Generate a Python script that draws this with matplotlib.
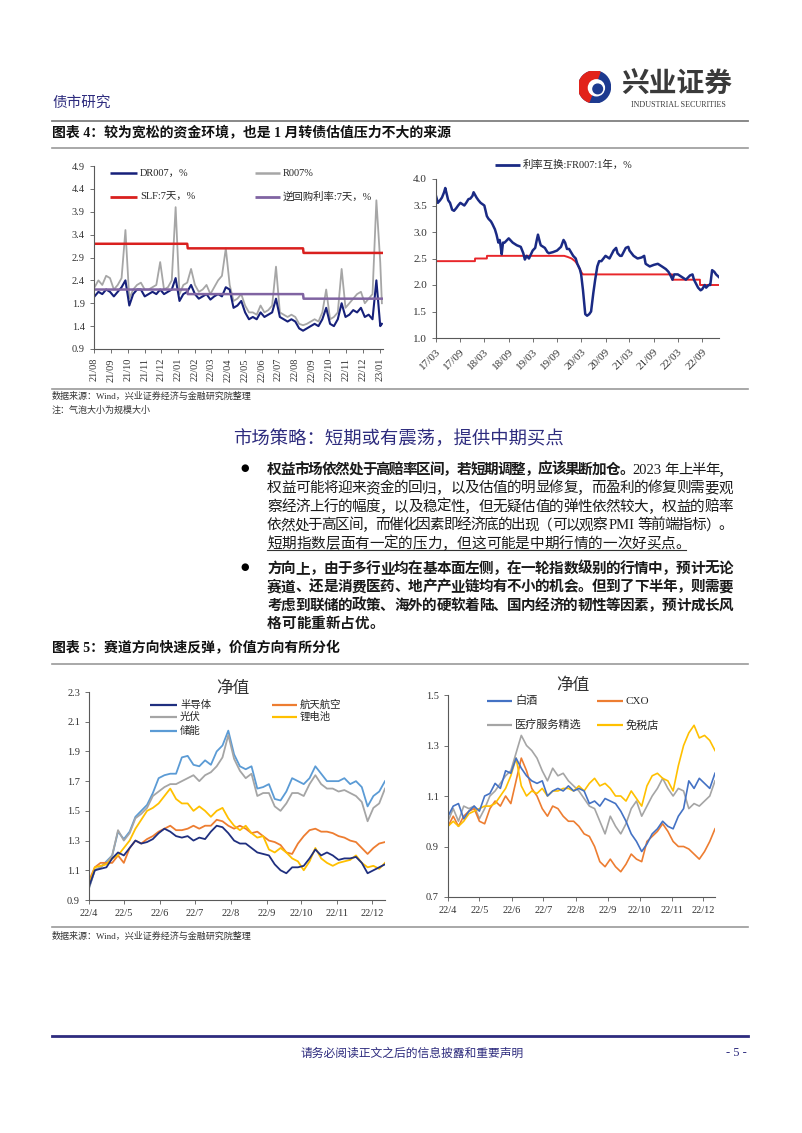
import matplotlib
matplotlib.use("Agg")
import matplotlib.pyplot as plt
import matplotlib.dates as mdates
from matplotlib.lines import Line2D
from matplotlib.patches import Wedge, Circle
from matplotlib.ticker import FormatStrFormatter, FuncFormatter
import numpy as np
import pandas as pd

W, H = 802, 1133
CJK = "Noto Sans CJK SC"
SERIF = "Liberation Serif"
MIX = [SERIF, CJK]
NAVY = "#2e2c7e"

plt.rcParams['font.family'] = [SERIF, CJK]

# ---------------- data: chart 4 left (weekly samples) ----------------
dr_dates = list(pd.date_range("2021-08-02", periods=75, freq="7D")) + [pd.Timestamp("2023-01-05")]
dr007 = [2.05, 2.15, 2.10, 2.20, 2.15,
         2.05, 2.15, 2.25, 2.40, 1.85,
         2.10, 2.20, 2.20, 2.05, 2.10,
         2.15, 2.10, 2.20, 2.10, 2.15,
         2.20, 2.45, 1.95, 2.10, 2.15,
         2.30, 2.10, 2.00, 2.05, 2.10,
         1.98, 2.05, 2.10, 2.05, 2.25,
         2.20, 1.80, 1.85, 1.95, 1.70,
         1.55, 1.60, 1.55, 1.70, 1.60,
         1.65, 1.70, 2.00, 1.60, 1.55,
         1.50, 1.55, 1.50, 1.35, 1.30,
         1.35, 1.40, 1.45, 1.40, 1.55,
         1.80, 1.45, 1.40, 1.55, 1.90,
         1.60, 1.65, 1.75, 1.70, 1.80,
         1.60, 1.65, 1.55, 2.40, 1.40,
         1.45]
r007 = [2.25, 2.40, 2.30, 2.50, 2.45,
        2.20, 2.30, 2.45, 3.50, 2.00,
        2.20, 2.30, 2.35, 2.20, 2.20,
        2.25, 2.30, 2.80, 2.20, 2.25,
        2.40, 4.00, 2.10, 2.30, 2.35,
        2.65, 2.30, 2.15, 2.20, 2.30,
        2.10, 2.25, 2.40, 2.50, 3.10,
        2.30, 1.95, 2.00, 2.10, 1.85,
        1.70, 1.70, 1.65, 1.85, 1.70,
        1.75, 1.85, 2.70, 1.70, 1.65,
        1.60, 1.65, 1.60, 1.45, 1.42,
        1.45, 1.50, 1.55, 1.50, 1.70,
        2.20, 1.55, 1.60, 1.70, 2.65,
        1.80, 1.90, 2.00, 2.10, 2.15,
        1.90, 2.00, 2.10, 4.15, 2.80,
        1.90]
policy_dates = ["2021-08-01", "2022-01-17", "2022-01-18", "2022-08-15", "2022-08-16", "2023-01-05"]
slf_7d = [3.2, 3.2, 3.1, 3.1, 3.0, 3.0]
repo_7d = [2.2, 2.2, 2.1, 2.1, 2.0, 2.0]

# ---------------- data: chart 4 right ----------------
swap_dates = ["2017-03-01", "2017-03-15", "2017-04-01", "2017-04-15", "2017-05-01", "2017-05-10",
              "2017-06-01", "2017-06-15", "2017-07-01", "2017-07-15", "2017-08-01", "2017-08-15",
              "2017-09-01", "2017-10-01", "2017-10-15", "2017-11-01", "2017-11-15", "2017-12-01",
              "2017-12-10", "2018-01-01", "2018-01-15", "2018-02-01", "2018-03-01", "2018-03-20",
              "2018-04-01", "2018-04-20", "2018-05-01", "2018-05-20", "2018-06-01", "2018-06-15",
              "2018-06-25", "2018-07-01", "2018-07-10", "2018-07-20", "2018-08-01", "2018-09-01",
              "2018-10-01", "2018-11-01", "2018-12-01", "2018-12-20", "2019-01-01", "2019-01-15",
              "2019-02-01", "2019-03-01", "2019-03-20", "2019-04-01", "2019-04-10", "2019-04-25",
              "2019-05-01", "2019-06-01", "2019-06-20", "2019-07-01", "2019-08-01", "2019-09-01",
              "2019-10-01", "2019-10-20", "2019-11-01", "2019-11-15", "2019-12-01", "2019-12-20",
              "2020-01-01", "2020-01-20", "2020-02-01", "2020-02-20", "2020-03-01", "2020-03-15",
              "2020-04-01", "2020-04-15", "2020-05-01", "2020-05-15", "2020-06-01", "2020-06-15",
              "2020-07-01", "2020-07-15", "2020-08-01", "2020-09-01", "2020-10-01", "2020-11-01",
              "2020-11-20", "2020-12-01", "2020-12-20", "2021-01-01", "2021-02-01", "2021-02-20",
              "2021-03-01", "2021-04-01", "2021-05-01", "2021-06-01", "2021-06-20", "2021-07-01",
              "2021-08-01", "2021-09-01", "2021-10-01", "2021-11-01", "2021-12-01", "2021-12-20",
              "2022-01-01", "2022-01-20", "2022-02-01", "2022-03-01", "2022-04-01", "2022-05-01",
              "2022-06-01", "2022-06-20", "2022-07-01", "2022-08-01", "2022-08-20", "2022-09-01",
              "2022-09-20", "2022-10-01", "2022-10-20", "2022-11-01", "2022-11-15", "2022-12-01",
              "2022-12-15", "2023-01-05"]
fr007_1y = [3.68, 3.55, 3.60, 3.65, 3.75, 3.83,
            3.60, 3.55, 3.42, 3.40, 3.45, 3.50,
            3.55, 3.50, 3.55, 3.62, 3.63, 3.68,
            3.75, 3.65, 3.60, 3.55, 3.50, 3.30,
            3.25, 3.20, 3.15, 3.05, 2.95, 2.80,
            2.85, 2.75, 2.58, 2.80, 2.80, 2.88,
            2.80, 2.75, 2.72, 2.60, 2.48, 2.55,
            2.50, 2.65, 2.70, 2.85, 2.95, 2.80,
            2.75, 2.70, 2.62, 2.60, 2.62, 2.65,
            2.72, 2.85, 2.80, 2.68, 2.68, 2.60,
            2.55, 2.50, 2.40, 2.30, 2.20, 1.90,
            1.45, 1.42, 1.45, 1.50, 1.85, 2.10,
            2.35, 2.45, 2.45, 2.55, 2.50, 2.65,
            2.70, 2.60, 2.55, 2.55, 2.70, 2.72,
            2.65, 2.55, 2.50, 2.52, 2.55, 2.40,
            2.35, 2.38, 2.40, 2.35, 2.30, 2.25,
            2.20, 2.10, 2.20, 2.20, 2.15, 2.10,
            2.18, 2.20, 2.10, 1.95, 1.90, 1.92,
            2.00, 1.95, 2.00, 2.00, 2.28, 2.25,
            2.20, 2.15]
base_dates = ["2017-03-01", "2017-12-20", "2017-12-21", "2018-03-20", "2018-03-21", "2019-10-25",
              "2019-11-20", "2019-12-20", "2020-01-15", "2020-02-05", "2020-02-20", "2020-03-05",
              "2020-03-15", "2022-01-17", "2022-01-18", "2022-08-15", "2022-08-16", "2023-01-05"]
base_rate = [2.45, 2.45, 2.50, 2.50, 2.55, 2.55,
             2.53, 2.50, 2.45, 2.38, 2.30, 2.23,
             2.20, 2.20, 2.10, 2.10, 2.00, 2.00]

# ---------------- data: chart 5 (5-day samples) ----------------
nav_dates = pd.date_range("2022-04-01", periods=52, freq="5D")
semis = [0.99, 1.10, 1.11, 1.12, 1.18, 1.22, 1.20, 1.25, 1.30, 1.28, 1.29, 1.31, 1.35,
         1.38, 1.36, 1.33, 1.32, 1.33, 1.30, 1.32, 1.31, 1.36, 1.40, 1.39, 1.35, 1.30,
         1.28, 1.28, 1.25, 1.22, 1.21, 1.20, 1.14, 1.10, 1.08, 1.12, 1.12, 1.13, 1.18,
         1.24, 1.20, 1.22, 1.20, 1.17, 1.18, 1.18, 1.19, 1.15, 1.08, 1.10, 1.12, 1.14]
aero = [1.03, 1.12, 1.15, 1.15, 1.15, 1.20, 1.15, 1.25, 1.30, 1.28, 1.31, 1.33, 1.36,
        1.38, 1.40, 1.37, 1.37, 1.38, 1.40, 1.38, 1.40, 1.40, 1.44, 1.43, 1.40, 1.38,
        1.40, 1.38, 1.35, 1.36, 1.33, 1.30, 1.29, 1.27, 1.22, 1.21, 1.28, 1.33, 1.37,
        1.38, 1.36, 1.36, 1.35, 1.33, 1.32, 1.30, 1.29, 1.25, 1.21, 1.25, 1.28, 1.29]
solar = [0.98, 1.10, 1.12, 1.15, 1.20, 1.37, 1.30, 1.35, 1.45, 1.48, 1.52, 1.60, 1.63,
         1.66, 1.68, 1.68, 1.70, 1.72, 1.74, 1.70, 1.74, 1.76, 1.80, 1.86, 2.01, 1.85,
         1.77, 1.72, 1.75, 1.60, 1.62, 1.62, 1.53, 1.50, 1.55, 1.62, 1.62, 1.60, 1.68,
         1.74, 1.68, 1.65, 1.65, 1.63, 1.64, 1.62, 1.60, 1.56, 1.43, 1.52, 1.55, 1.65]
lithium = [1.00, 1.12, 1.13, 1.14, 1.18, 1.20, 1.25, 1.30, 1.38, 1.44, 1.50, 1.52, 1.55,
           1.60, 1.65, 1.58, 1.55, 1.55, 1.50, 1.53, 1.50, 1.46, 1.50, 1.52, 1.45, 1.40,
           1.37, 1.40, 1.35, 1.32, 1.33, 1.24, 1.22, 1.25, 1.22, 1.18, 1.16, 1.10, 1.16,
           1.25, 1.18, 1.15, 1.13, 1.15, 1.16, 1.17, 1.20, 1.15, 1.12, 1.13, 1.11, 1.15]
storage = [0.98, 1.10, 1.12, 1.16, 1.20, 1.36, 1.31, 1.36, 1.46, 1.50, 1.54, 1.62, 1.72,
           1.74, 1.75, 1.75, 1.86, 1.87, 1.81, 1.80, 1.84, 1.81, 1.90, 1.94, 2.04, 1.88,
           1.80, 1.78, 1.80, 1.65, 1.66, 1.68, 1.58, 1.57, 1.63, 1.72, 1.70, 1.68, 1.72,
           1.80, 1.75, 1.70, 1.70, 1.70, 1.72, 1.68, 1.70, 1.66, 1.53, 1.60, 1.63, 1.70]

liquor = [1.02, 1.06, 1.07, 1.01, 1.04, 1.06, 1.04, 1.10, 1.11, 1.15, 1.13, 1.20, 1.19,
          1.25, 1.21, 1.18, 1.16, 1.15, 1.16, 1.10, 1.12, 1.13, 1.12, 1.14, 1.12, 1.13,
          1.12, 1.07, 1.08, 1.06, 1.09, 1.08, 1.07, 1.04, 1.00, 0.95, 0.92, 0.88, 0.91,
          0.95, 0.97, 1.00, 0.98, 0.97, 1.02, 1.05, 1.16, 1.13, 1.17, 1.15, 1.13, 1.19]
cxo = [0.98, 1.02, 0.98, 1.02, 1.04, 1.05, 1.00, 0.99, 1.05, 1.08, 1.06, 1.10, 1.07,
       1.16, 1.25, 1.20, 1.13, 1.10, 1.05, 1.02, 1.06, 1.05, 1.02, 1.00, 1.00, 0.98,
       0.95, 0.94, 0.90, 0.84, 0.82, 0.85, 0.82, 0.80, 0.83, 0.87, 0.85, 0.84, 0.92,
       0.94, 0.96, 0.99, 0.96, 0.92, 0.90, 0.90, 0.89, 0.87, 0.85, 0.88, 0.92, 0.97]
medical = [1.00, 1.05, 1.00, 1.06, 1.05, 1.06, 1.01, 1.05, 1.10, 1.12, 1.15, 1.18, 1.20,
           1.27, 1.34, 1.30, 1.28, 1.25, 1.20, 1.16, 1.21, 1.18, 1.19, 1.16, 1.14, 1.12,
           1.09, 1.06, 1.05, 1.00, 0.95, 1.02, 0.98, 0.95, 0.99, 1.05, 1.08, 1.02, 1.06,
           1.10, 1.13, 1.17, 1.13, 1.10, 1.13, 1.12, 1.05, 1.07, 1.06, 1.08, 1.10, 1.16]
dutyfree = [0.98, 1.00, 0.98, 1.00, 1.03, 1.04, 1.05, 1.06, 1.06, 1.07, 1.10, 1.13, 1.18,
            1.25, 1.14, 1.10, 1.12, 1.11, 1.13, 1.10, 1.12, 1.12, 1.13, 1.13, 1.12, 1.14,
            1.12, 1.15, 1.17, 1.14, 1.15, 1.13, 1.10, 1.10, 1.08, 1.12, 1.09, 1.06, 1.14,
            1.18, 1.19, 1.17, 1.16, 1.12, 1.22, 1.30, 1.35, 1.38, 1.33, 1.34, 1.32, 1.28]

# ---------------- text ----------------
bullet1 = [
    [("权益市场依然处于高赔率区间，若短期调整，应该果断加仓。", True), ("2023 年上半年，", False)],
    [("权益可能将迎来资金的回归，以及估值的明显修复，而盈利的修复则需要观", False)],
    [("察经济上行的幅度，以及稳定性，但无疑估值的弹性依然较大，权益的赔率", False)],
    [("依然处于高区间，而催化因素即经济底的出现（可以观察 PMI 等前端指标）。", False)],
    [("短期指数层面有一定的压力，但这可能是中期行情的一次好买点。", False)],
]
bullet2 = [
    [("方向上，由于多行业均在基本面左侧，在一轮指数级别的行情中，预计无论", True)],
    [("赛道、还是消费医药、地产产业链均有不小的机会。但到了下半年，则需要", True)],
    [("考虑到联储的政策、海外的硬软着陆、国内经济的韧性等因素，预计成长风", True)],
    [("格可能重新占优。", True)],
]

fig = plt.figure(figsize=(W / 100, H / 100), dpi=100)
renderer = fig.canvas.get_renderer()


def fx(x):
    return x / W


def fy(y):
    return 1 - y / H


def axes_px(l, t, r, b):
    return fig.add_axes([l / W, 1 - b / H, (r - l) / W, (b - t) / H])


def hline(y, x0, x1, color="#8c8c8c", lw=1.0):
    fig.add_artist(Line2D([fx(x0), fx(x1)], [fy(y), fy(y)], color=color, lw=lw))


def ftext(x, y, s, **kw):
    return fig.text(fx(x), fy(y), s, **kw)


def key(x0, x1, y, color, lw, label, size):
    fig.add_artist(Line2D([fx(x0), fx(x1)], [fy(y), fy(y)], color=color, lw=lw,
                          solid_capstyle="butt"))
    ftext(x1 + 3, y, label, family=MIX, fontsize=size, va="center", ha="left", color="#262626")


def tokens(segments):
    out = []
    for s, bold in segments:
        buf = ""
        for ch in s:
            if ord(ch) < 128 and ch != " ":
                buf += ch
                continue
            if buf:
                out.append((buf, bold))
                buf = ""
            out.append((ch, bold))
        if buf:
            out.append((buf, bold))
    return out


def text_line(segments, x0, y, x1=None, size=10.5):
    # one token per CJK glyph, placed on a shared bottom line so baselines agree
    em = size * 100 / 72
    toks = tokens(segments)
    widths = []
    for s, bold in toks:
        if s == " ":
            widths.append(0.25 * em)
        elif ord(s[0]) >= 128:
            widths.append(em)
        else:
            t = fig.text(0, 0, s, family=MIX, fontsize=size,
                         fontweight="bold" if bold else "normal")
            widths.append(t.get_window_extent(renderer).width + 1)
            t.remove()
    gap = 0.0
    if x1 is not None and len(toks) > 1:
        gap = (x1 - x0 - sum(widths)) / (len(toks) - 1)
    x = x0
    for (s, bold), w in zip(toks, widths):
        if s != " ":
            ftext(x, y + 0.6 * em, s, family=MIX, fontsize=size, va="bottom", ha="left",
                  fontweight="bold" if bold else "normal", color="#1a1a1a")
        x += w + gap
    return x


def style(ax, size):
    for s in ["top", "right"]:
        ax.spines[s].set_visible(False)
    for s in ["left", "bottom"]:
        ax.spines[s].set_color("#595959")
        ax.spines[s].set_linewidth(0.8)
    ax.tick_params(labelsize=size, length=3, width=0.6, colors="#595959", labelcolor="#333333")
    ax.patch.set_alpha(0)


# ---------------- header ----------------
ftext(52, 103, "债市研究", family=CJK, fontsize=10.5, color=NAVY, va="center")
lg = axes_px(578, 71, 611, 103)
lg.set_xlim(-1, 1)
lg.set_ylim(-1, 1)
lg.set_aspect("equal")
lg.axis("off")
lg.add_patch(Circle((0, 0), 1, color="#1d3a8f"))
lg.add_patch(Wedge((0, 0), 1, 70, 250, color="#e2231a"))
lg.add_patch(Circle((0.12, -0.05), 0.5, color="white"))
lg.add_patch(Circle((0.2, -0.12), 0.3, color="#1d3a8f"))
ftext(677, 85, "兴业证券", family=CJK, fontsize=20, fontweight="bold", color="#3a3a3a",
      va="center", ha="center")
ftext(678, 105, "INDUSTRIAL SECURITIES", family=SERIF, fontsize=5.8, color="#3a3a3a",
      va="center", ha="center")
hline(121, 52, 748, "#7f7f7f", 1.3)
ftext(52, 133, "图表 4：较为宽松的资金环境，也是 1 月转债估值压力不大的来源", family=MIX,
      fontsize=10, fontweight="bold", va="center", color="#111111")
hline(148, 52, 748, "#9a9a9a", 1.2)

# ---------------- chart 4 left ----------------
ax1 = axes_px(94, 166, 383, 349)
ax1.plot(pd.to_datetime(dr_dates), r007, color="#a6a6a6", lw=1.3)
ax1.plot(pd.to_datetime(dr_dates), dr007, color="#16207a", lw=1.5)
ax1.plot(pd.to_datetime(policy_dates), slf_7d, color="#d9201e", lw=1.8)
ax1.plot(pd.to_datetime(policy_dates), repo_7d, color="#8064a2", lw=1.8)
ax1.set_xlim(pd.Timestamp("2021-08-01"), pd.Timestamp("2023-01-07"))
ax1.set_ylim(0.9, 4.9)
ax1.set_yticks(np.arange(0.9, 4.95, 0.5))
ax1.yaxis.set_major_formatter(FormatStrFormatter("%.1f"))
ax1.xaxis.set_major_locator(mdates.MonthLocator())
ax1.xaxis.set_major_formatter(mdates.DateFormatter("%y/%m"))
style(ax1, 7.5)
ax1.tick_params(axis="x", labelrotation=90)
key(110, 137, 173, "#16207a", 1.8, "DR007，%", 7.5)
key(255, 280, 173, "#a6a6a6", 1.8, "R007%", 7.5)
key(110, 137, 197, "#d9201e", 2.0, "SLF:7天，%", 7.5)
key(255, 280, 197, "#8064a2", 2.0, "逆回购利率:7天，%", 7.5)

# ---------------- chart 4 right ----------------
ax2 = axes_px(436, 179, 719, 338)
ax2.plot(pd.to_datetime(base_dates), base_rate, color="#e8262a", lw=1.4)
ax2.plot(pd.to_datetime(swap_dates), fr007_1y, color="#1a2a84", lw=1.8)
ax2.set_xlim(pd.Timestamp("2017-03-01"), pd.Timestamp("2023-01-06"))
ax2.set_ylim(1.0, 4.0)
ax2.set_yticks(np.arange(1.0, 4.05, 0.5))
ax2.yaxis.set_major_formatter(FormatStrFormatter("%.1f"))
ax2.xaxis.set_major_locator(mdates.MonthLocator(bymonth=(3, 9)))
ax2.xaxis.set_major_formatter(mdates.DateFormatter("%y/%m"))
style(ax2, 8)
plt.setp(ax2.get_xticklabels(), rotation=45, ha="right", rotation_mode="anchor")
key(495, 520, 165, "#1a2a84", 2.0, "利率互换:FR007:1年，%", 7.5)

hline(389, 52, 748, "#9a9a9a", 1.2)
ftext(52, 396, "数据来源：Wind，兴业证券经济与金融研究院整理", family=MIX, fontsize=6.5,
      va="center", color="#333333")
ftext(52, 410, "注：气泡大小为规模大小", family=MIX, fontsize=6.5, va="center", color="#333333")

# ---------------- text block ----------------
ftext(233, 440, "市场策略：短期或有震荡，提供中期买点", family=CJK, fontsize=13.2,
      color=NAVY, va="center")
ftext(245, 468, "●", family="DejaVu Sans", fontsize=7, va="center", ha="center")
ys1 = [468, 486.5, 505, 523.5, 542]
for i, seg in enumerate(bullet1):
    right = 733 if i < 4 else None
    end = text_line(seg, 267, ys1[i], right)
    if i == 4:
        hline(ys1[i] + 8.5, 267, end - 4, "#333333", 0.8)
ftext(245, 567, "●", family="DejaVu Sans", fontsize=7, va="center", ha="center")
ys2 = [567, 585.5, 604, 622]
for i, seg in enumerate(bullet2):
    right = 733 if i < 3 else None
    text_line(seg, 267, ys2[i], right)

# ---------------- chart 5 ----------------
ftext(52, 648, "图表 5：赛道方向快速反弹，价值方向有所分化", family=MIX, fontsize=10,
      fontweight="bold", va="center", color="#111111")
hline(664, 52, 748, "#9a9a9a", 1.2)


def month_fmt(v, p):
    d = mdates.num2date(v)
    return f"{d.year % 100}/{d.month}"


ax3 = axes_px(89, 692, 385, 900)
ax3.plot(nav_dates, storage, color="#5b9bd5", lw=1.3)
ax3.plot(nav_dates, solar, color="#a5a5a5", lw=1.3)
ax3.plot(nav_dates, aero, color="#ed7d31", lw=1.3)
ax3.plot(nav_dates, lithium, color="#ffc000", lw=1.3)
ax3.plot(nav_dates, semis, color="#1f2f7f", lw=1.3)
ax3.set_xlim(pd.Timestamp("2022-04-01"), pd.Timestamp("2022-12-12"))
ax3.set_ylim(0.9, 2.3)
ax3.set_yticks(np.arange(0.9, 2.35, 0.2))
ax3.yaxis.set_major_formatter(FormatStrFormatter("%.1f"))
ax3.xaxis.set_major_locator(mdates.MonthLocator())
ax3.xaxis.set_major_formatter(FuncFormatter(month_fmt))
style(ax3, 7.5)
ftext(233, 688, "净值", family=CJK, fontsize=12, va="center", ha="center", color="#333333")
key(150, 177, 705, "#1f2f7f", 1.6, "半导体", 7.5)
key(272, 297, 705, "#ed7d31", 1.6, "航天航空", 7.5)
key(150, 177, 717, "#a5a5a5", 1.6, "光伏", 7.5)
key(272, 297, 717, "#ffc000", 1.6, "锂电池", 7.5)
key(150, 177, 731, "#5b9bd5", 1.6, "储能", 7.5)

ax4 = axes_px(448, 695, 715, 897)
ax4.plot(nav_dates, medical, color="#a5a5a5", lw=1.2)
ax4.plot(nav_dates, cxo, color="#ed7d31", lw=1.2)
ax4.plot(nav_dates, dutyfree, color="#ffc000", lw=1.2)
ax4.plot(nav_dates, liquor, color="#4472c4", lw=1.2)
ax4.set_xlim(pd.Timestamp("2022-04-01"), pd.Timestamp("2022-12-12"))
ax4.set_ylim(0.7, 1.5)
ax4.set_yticks(np.arange(0.7, 1.55, 0.2))
ax4.yaxis.set_major_formatter(FormatStrFormatter("%.1f"))
ax4.xaxis.set_major_locator(mdates.MonthLocator())
ax4.xaxis.set_major_formatter(FuncFormatter(month_fmt))
style(ax4, 7.5)
ftext(573, 685, "净值", family=CJK, fontsize=12, va="center", ha="center", color="#333333")
key(487, 512, 701, "#4472c4", 1.6, "白酒", 8)
key(597, 623, 701, "#ed7d31", 1.6, "CXO", 8)
key(487, 512, 725, "#a5a5a5", 1.6, "医疗服务精选", 8)
key(597, 623, 725, "#ffc000", 1.6, "免税店", 8)

hline(927, 52, 748, "#9a9a9a", 1.2)
ftext(52, 936, "数据来源：Wind，兴业证券经济与金融研究院整理", family=MIX, fontsize=6.5,
      va="center", color="#333333")

# ---------------- footer ----------------
hline(1036, 52, 748, NAVY, 2.0)
ftext(412, 1053, "请务必阅读正文之后的信息披露和重要声明", family=CJK, fontsize=8.5,
      va="center", ha="center", color=NAVY)
ftext(736, 1053, "- 5 -", family=SERIF, fontsize=9, va="center", ha="center", color=NAVY)

fig.savefig("out.png", dpi=100)
